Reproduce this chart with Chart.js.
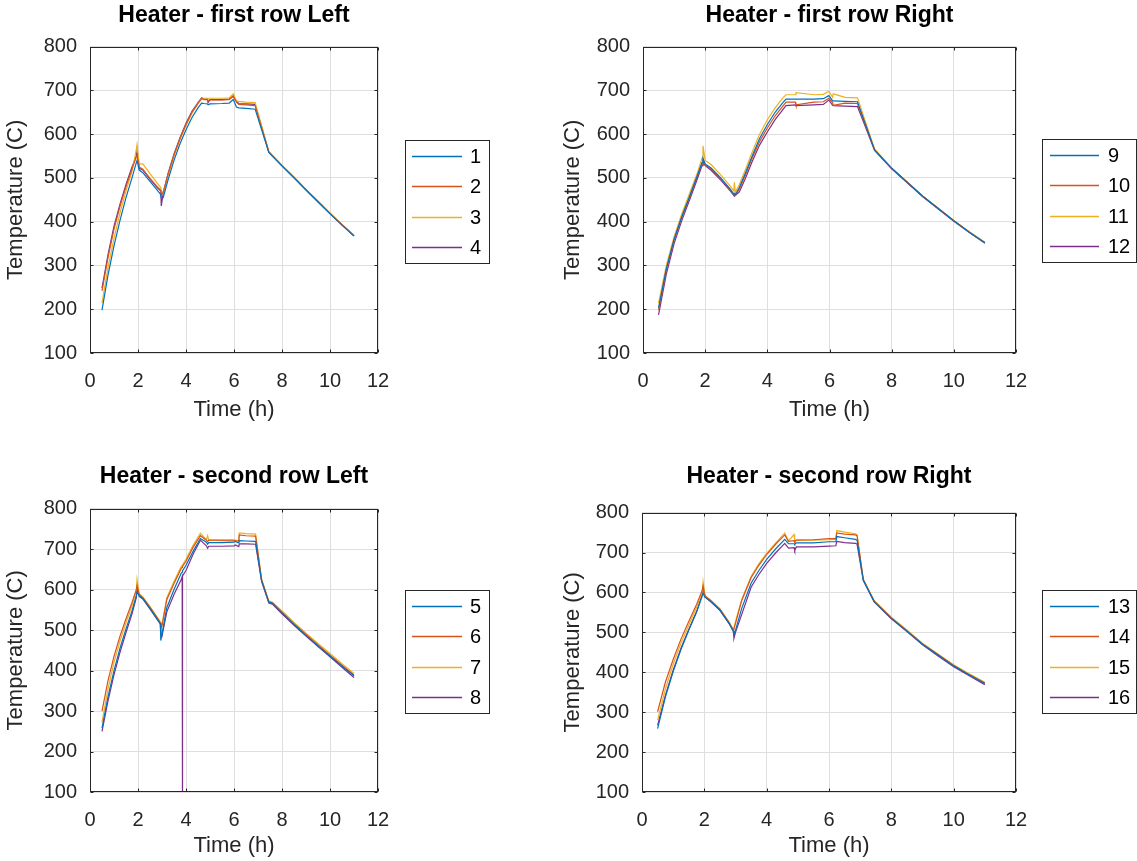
<!DOCTYPE html>
<html>
<head>
<meta charset="utf-8">
<title>Heater temperatures</title>
<script src="https://cdn.jsdelivr.net/npm/chart.js@4.4.1/dist/chart.umd.min.js"></script>
<style>
  body { margin: 0; background: #fff; }
  #wrap { position: relative; width: 1137px; height: 861px; overflow: hidden; }
  canvas { position: absolute; }
</style>
</head>
<body>
<div id="wrap">
  <canvas id="chart1" width="560" height="430" style="left:0;top:0"></canvas>
  <canvas id="chart2" width="577" height="430" style="left:560px;top:0"></canvas>
  <canvas id="chart3" width="560" height="431" style="left:0;top:430px"></canvas>
  <canvas id="chart4" width="577" height="431" style="left:560px;top:430px"></canvas>
</div>
<script>
// Heater - first row Left (1-4)
const time1 = [0.5, 0.75, 1.0, 1.25, 1.5, 1.75, 1.93, 1.96, 2.05, 2.2, 2.5, 2.8, 2.95, 2.97, 3.05, 3.25, 3.5, 3.75, 4.0, 4.25, 4.5, 4.65, 4.75, 4.9, 4.92, 5.0, 5.5, 5.8, 5.97, 6.1, 6.2, 6.5, 6.88, 7.45, 8.0, 8.5, 9.0, 9.5, 10.0, 10.5, 11.0];
const heater1 = [198, 278, 345, 403, 455, 500, 535, 540, 518, 512, 492, 472, 462, 455, 455, 495, 540, 578, 610, 638, 660, 671, 670, 669, 667, 669, 670, 671, 679, 662, 660, 659, 657, 558, 527, 500, 472, 445, 418, 392, 367];
const heater2 = [242, 318, 383, 435, 480, 520, 548, 552, 525, 520, 499, 480, 472, 462, 467, 508, 552, 590, 622, 650, 670, 681, 679, 679, 675, 678, 678, 679, 686, 673, 668, 667, 665, 559, 528, 501, 473, 446, 419, 393, 368];
const heater3 = [214, 295, 362, 420, 470, 515, 565, 576, 532, 532, 510, 488, 478, 470, 466, 505, 550, 588, 620, 648, 670, 682, 682, 682, 682, 682, 682, 683, 692, 676, 675, 673, 672, 560, 529, 502, 474, 447, 420, 394, 369];
const heater4 = [248, 325, 390, 440, 485, 525, 550, 562, 522, 518, 497, 478, 470, 436, 465, 510, 555, 592, 625, 652, 672, 683, 680, 680, 672, 679, 679, 680, 688, 675, 670, 669, 668, 560, 528, 501, 473, 446, 419, 393, 368];

// Heater - first row Right (9-12)
const time2 = [0.5, 0.75, 1.0, 1.25, 1.5, 1.75, 1.9, 1.93, 2.0, 2.2, 2.5, 2.8, 2.92, 2.94, 2.97, 3.1, 3.3, 3.5, 3.75, 4.0, 4.25, 4.5, 4.6, 4.9, 4.92, 5.5, 5.8, 5.98, 6.1, 6.12, 6.5, 6.9, 7.45, 8.0, 8.5, 9.0, 9.5, 10.0, 10.5, 11.0];
const heater9 = [203, 292, 360, 412, 458, 506, 535, 545, 532, 522, 500, 475, 463, 465, 462, 478, 512, 548, 590, 622, 650, 672, 680, 680, 680, 680, 681, 688, 676, 676, 675, 674, 564, 522, 490, 458, 430, 402, 376, 352];
const heater10 = [198, 290, 358, 410, 456, 504, 533, 540, 530, 520, 498, 474, 462, 462, 460, 474, 508, 543, 583, 614, 642, 664, 673, 673, 667, 673, 674, 682, 672, 666, 671, 670, 564, 522, 490, 458, 430, 402, 376, 352];
const heater11 = [214, 300, 366, 418, 465, 512, 545, 573, 540, 530, 507, 482, 470, 490, 468, 485, 520, 557, 600, 633, 660, 683, 690, 690, 695, 690, 691, 698, 684, 692, 684, 683, 566, 523, 491, 459, 431, 403, 377, 353];
const heater12 = [187, 280, 350, 403, 450, 498, 528, 535, 528, 517, 495, 471, 460, 458, 460, 468, 500, 535, 575, 605, 633, 656, 665, 667, 665, 667, 668, 678, 666, 665, 664, 663, 563, 521, 489, 457, 429, 401, 375, 351];

// Heater - second row Left (5-8)
const time3 = [0.5, 0.75, 1.0, 1.25, 1.5, 1.75, 1.93, 1.96, 2.05, 2.2, 2.5, 2.8, 2.93, 2.95, 3.0, 3.2, 3.5, 3.8, 3.84, 3.85, 3.86, 4.0, 4.3, 4.6, 4.85, 4.9, 4.95, 5.5, 6.0, 6.05, 6.2, 6.22, 6.5, 6.9, 7.15, 7.45, 7.6, 8.0, 8.5, 9.0, 9.5, 10.0, 10.5, 11.0];
const heater5 = [258, 335, 400, 455, 503, 547, 585, 594, 585, 578, 553, 527, 516, 474, 490, 555, 600, 640, 643, 645, 646, 660, 695, 726, 717, 712, 716, 716, 717, 719, 715, 721, 720, 719, 622, 569, 566, 542, 514, 487, 461, 436, 411, 387];
const heater6 = [300, 375, 435, 485, 528, 568, 600, 610, 588, 580, 556, 530, 518, 505, 510, 575, 615, 652, 655, 656, 657, 670, 705, 733, 722, 718, 722, 722, 722, 720, 720, 735, 733, 732, 624, 570, 567, 544, 516, 489, 463, 438, 413, 389];
const heater7 = [272, 355, 420, 473, 518, 560, 598, 625, 589, 582, 558, 532, 520, 510, 515, 580, 620, 657, 659, 660, 661, 675, 710, 739, 723, 733, 722, 721, 720, 722, 720, 740, 738, 737, 626, 572, 569, 547, 519, 492, 467, 442, 417, 393];
const heater8 = [250, 325, 390, 445, 494, 540, 580, 602, 583, 577, 552, 526, 515, 490, 485, 545, 588, 625, 632, 0, 634, 647, 688, 722, 708, 702, 707, 707, 708, 710, 706, 713, 713, 712, 620, 567, 564, 540, 512, 485, 459, 434, 408, 383];

// Heater - second row Right (13-16)
const time4 = [0.5, 0.75, 1.0, 1.25, 1.5, 1.75, 1.93, 1.96, 2.02, 2.2, 2.5, 2.8, 2.93, 2.95, 3.0, 3.2, 3.5, 3.75, 4.0, 4.3, 4.58, 4.7, 4.88, 4.9, 4.95, 5.5, 6.0, 6.22, 6.25, 6.5, 6.85, 6.9, 7.1, 7.45, 8.0, 8.5, 9.0, 9.5, 10.0, 10.5, 11.0];
const heater13 = [259, 338, 402, 457, 505, 550, 590, 598, 588, 578, 556, 522, 503, 498, 505, 560, 623, 655, 683, 710, 733, 722, 722, 720, 724, 724, 727, 727, 740, 737, 733, 731, 631, 577, 535, 503, 470, 443, 416, 393, 372];
const heater14 = [301, 375, 432, 483, 527, 570, 605, 616, 591, 580, 558, 524, 505, 505, 522, 580, 637, 668, 695, 722, 744, 728, 730, 727, 731, 732, 735, 735, 749, 746, 744, 742, 632, 578, 536, 504, 471, 444, 417, 394, 373];
const heater15 = [280, 358, 420, 473, 518, 562, 600, 627, 592, 581, 559, 525, 507, 510, 528, 582, 640, 672, 698, 725, 749, 729, 745, 725, 731, 731, 732, 733, 755, 751, 747, 745, 633, 580, 538, 506, 473, 446, 419, 396, 375];
const heater16 = [267, 342, 405, 460, 507, 552, 595, 613, 589, 577, 555, 521, 503, 485, 500, 545, 613, 645, 673, 700, 723, 711, 712, 705, 714, 714, 716, 717, 728, 725, 723, 721, 630, 576, 534, 502, 469, 441, 414, 391, 369];

// axis ticks
const xTickStep = 2, xMin = 0, xMax = 12;
const yTickStep = 100, yMin = 100, yMax = 800;

const lineColors = ["#0072BD", "#D95319", "#EDB120", "#7E2F8E"];

Chart.defaults.font.family = "'Liberation Sans', Arial, sans-serif";

// black box round the plot, with small inward ticks like matlab
const axesBox = {
  id: "axesBox",
  afterDatasetsDraw(chart) {
    const { ctx, chartArea: a, scales } = chart;
    const L = Math.round(a.left) + 0.5, R = Math.round(a.right) - 0.5;
    const T = Math.round(a.top) + 0.5, B = Math.round(a.bottom) - 0.5;
    ctx.save();
    ctx.strokeStyle = "#262626";
    ctx.lineWidth = 1;
    ctx.beginPath();
    scales.x.ticks.forEach((t) => {
      const px = Math.round(scales.x.getPixelForValue(t.value)) + 0.5;
      ctx.moveTo(px, B); ctx.lineTo(px, B - 3);
      ctx.moveTo(px, T); ctx.lineTo(px, T + 3);
    });
    scales.y.ticks.forEach((t) => {
      const py = Math.round(scales.y.getPixelForValue(t.value)) + 0.5;
      ctx.moveTo(L, py); ctx.lineTo(L + 3, py);
      ctx.moveTo(R, py); ctx.lineTo(R - 3, py);
    });
    ctx.stroke();
    ctx.strokeRect(L, T, R - L, B - T);
    ctx.restore();
  },
};

// legend in a framed box to the right of the axes
const boxLegend = {
  id: "boxLegend",
  afterDraw(chart, args, opts) {
    const { ctx } = chart;
    ctx.save();
    ctx.fillStyle = "#fff";
    ctx.fillRect(opts.x, opts.y, opts.w, opts.h);
    ctx.strokeStyle = "#262626";
    ctx.lineWidth = 1;
    ctx.strokeRect(opts.x + 0.5, opts.y + 0.5, opts.w, opts.h);
    ctx.font = "20px 'Liberation Sans', Arial, sans-serif";
    ctx.textBaseline = "middle";
    chart.data.datasets.forEach((ds, i) => {
      const y = Math.round(opts.y + 16 + i * 30.3) + 0.5;
      ctx.strokeStyle = ds.borderColor;
      ctx.lineWidth = 1.5;
      ctx.beginPath();
      ctx.moveTo(opts.x + opts.lineStart, y);
      ctx.lineTo(opts.x + opts.lineEnd, y);
      ctx.stroke();
      ctx.fillStyle = "#000";
      ctx.fillText(ds.label, opts.x + opts.textX, y + 1);
    });
    ctx.restore();
  },
};

function makeChart(id, cfg) {
  const ctx = document.getElementById(id).getContext("2d");
  return new Chart(ctx, {
    type: "line",
    data: {
      datasets: cfg.series.map((vals, i) => ({
        label: cfg.labels[i],
        data: cfg.times.map((t, j) => ({ x: t, y: vals[j] })),
        borderColor: lineColors[i],
        backgroundColor: lineColors[i],
        borderWidth: 1.2,
        pointRadius: 0,
        tension: 0,
      })),
    },
    options: {
      responsive: false,
      animation: false,
      events: [],
      layout: { padding: { left: 0, top: 0, right: cfg.padRight, bottom: 0 } },
      plugins: {
        legend: { display: false },
        tooltip: { enabled: false },
        title: {
          display: true,
          text: cfg.title,
          fullSize: false,
          color: "#000",
          font: { size: 23, weight: "bold" },
          padding: { top: cfg.titleTop, bottom: cfg.titleBottom },
        },
        boxLegend: cfg.legend,
      },
      scales: {
        x: {
          type: "linear",
          min: xMin,
          max: xMax,
          ticks: { stepSize: xTickStep, padding: 16, color: "#262626", font: { size: 20 } },
          grid: { color: "#dfdfdf", drawTicks: false },
          border: { display: false },
          title: { display: true, text: "Time (h)", color: "#262626", font: { size: 22 }, padding: { top: 0, bottom: cfg.xTitlePad } },
          afterFit: (s) => { s.height = cfg.xHeight; },
        },
        y: {
          type: "linear",
          min: yMin,
          max: yMax,
          ticks: { stepSize: yTickStep, padding: 13, color: "#262626", font: { size: 20 } },
          grid: { color: "#dfdfdf", drawTicks: false },
          border: { display: false },
          title: { display: true, text: "Temperature (C)", color: "#262626", font: { size: 22 }, padding: { top: cfg.yTitlePad, bottom: 0 } },
          afterFit: (s) => { s.width = cfg.yWidth; },
        },
      },
    },
    plugins: [axesBox, boxLegend],
  });
}

makeChart("chart1", {
  title: "Heater - first row Left",
  times: time1,
  series: [heater1, heater2, heater3, heater4],
  labels: ["1", "2", "3", "4"],
  padRight: 182, yWidth: 90, xHeight: 77,
  titleTop: 2, titleBottom: 17, xTitlePad: 7, yTitlePad: 3,
  legend: { x: 405, y: 140, w: 84, h: 123, lineStart: 7, lineEnd: 57, textX: 65 },
});

makeChart("chart2", {
  title: "Heater - first row Right",
  times: time2,
  series: [heater9, heater10, heater11, heater12],
  labels: ["9", "10", "11", "12"],
  padRight: 121, yWidth: 83, xHeight: 77,
  titleTop: 2, titleBottom: 17, xTitlePad: 7, yTitlePad: 0,
  legend: { x: 482, y: 139, w: 94, h: 123, lineStart: 8, lineEnd: 57, textX: 66 },
});

makeChart("chart3", {
  title: "Heater - second row Left",
  times: time3,
  series: [heater5, heater6, heater7, heater8],
  labels: ["5", "6", "7", "8"],
  padRight: 182, yWidth: 90, xHeight: 69,
  titleTop: 33, titleBottom: 18, xTitlePad: 2, yTitlePad: 3,
  legend: { x: 405, y: 160, w: 84, h: 123, lineStart: 7, lineEnd: 57, textX: 65 },
});

makeChart("chart4", {
  title: "Heater - second row Right",
  times: time4,
  series: [heater13, heater14, heater15, heater16],
  labels: ["13", "14", "15", "16"],
  padRight: 121, yWidth: 82, xHeight: 69,
  titleTop: 33, titleBottom: 22, xTitlePad: 2, yTitlePad: 0,
  legend: { x: 482, y: 160, w: 94, h: 123, lineStart: 8, lineEnd: 57, textX: 66 },
});
</script>
</body>
</html>
